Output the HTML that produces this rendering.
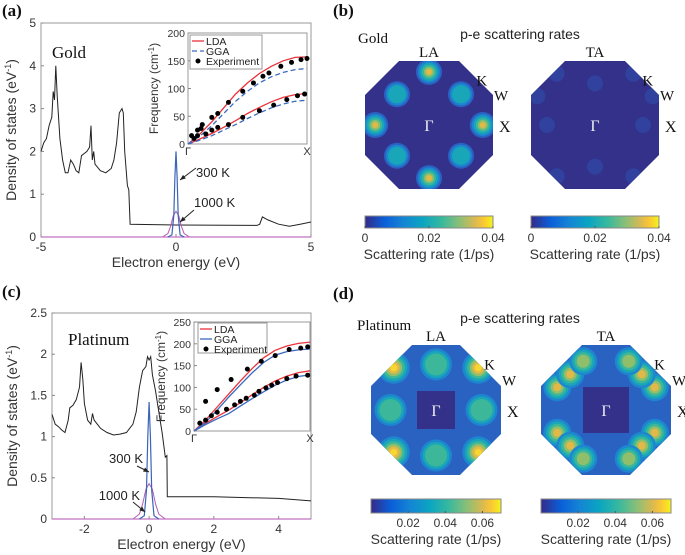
<!DOCTYPE html>
<html><head><meta charset="utf-8">
<style>
body{margin:0;background:#fff;}
svg{display:block;font-family:"Liberation Sans",sans-serif;}
.serif{font-family:"Liberation Serif",serif;}
</style></head>
<body>
<svg id="fig" width="685" height="555" viewBox="0 0 685 555" xmlns="http://www.w3.org/2000/svg">
<defs>
<linearGradient id="parula" x1="0" x2="1" y1="0" y2="0">
<stop offset="0" stop-color="#352a87"/><stop offset="0.15" stop-color="#0b5ed8"/><stop offset="0.3" stop-color="#1485d4"/>
<stop offset="0.45" stop-color="#0aa5c2"/><stop offset="0.6" stop-color="#38b99e"/><stop offset="0.75" stop-color="#92bf73"/>
<stop offset="0.86" stop-color="#dcb950"/><stop offset="0.93" stop-color="#fcc932"/><stop offset="1" stop-color="#f2f51a"/>
</linearGradient>
</defs>
<g id="root"></g>
</svg>
<script>
// ---------- DATA ----------
const goldE=[-5,-4.9,-4.8,-4.7,-4.6,-4.55,-4.5,-4.45,-4.4,-4.3,-4.2,-4.1,-4.0,-3.9,-3.8,-3.7,-3.6,-3.5,-3.4,-3.3,-3.2,-3.15,-3.1,-3.05,-3.0,-2.8,-2.6,-2.4,-2.3,-2.2,-2.1,-2.0,-1.95,-1.9,-1.8,-1.75,-1.7,0,3.0,3.1,3.2,3.4,3.8,4.2,4.6,5.0];
const goldDOS=[2.0,2.2,2.3,2.6,2.8,3.4,3.2,4.0,3.3,2.3,1.8,1.5,1.5,1.8,1.7,1.55,1.5,1.9,1.95,2.0,2.1,2.6,1.8,2.0,1.7,1.55,1.5,1.6,1.8,2.2,2.9,3.0,2.9,2.0,1.2,1.1,0.3,0.28,0.27,0.3,0.47,0.4,0.3,0.25,0.3,0.35];
const peakE300=[-0.3,-0.15,-0.08,-0.04,0,0.04,0.08,0.15,0.3];
const goldPeak300=[0,0.05,0.5,1.4,2.0,1.4,0.5,0.05,0];
const peakE1000=[-0.5,-0.3,-0.2,-0.1,0,0.1,0.2,0.3,0.5];
const goldPeak1000=[0,0.08,0.25,0.5,0.6,0.5,0.25,0.08,0];
const ptE=[-3,-2.9,-2.8,-2.7,-2.6,-2.5,-2.45,-2.35,-2.25,-2.15,-2.1,-2.05,-2.0,-1.9,-1.8,-1.75,-1.7,-1.5,-1.3,-1.1,-0.9,-0.7,-0.5,-0.4,-0.3,-0.2,-0.1,-0.05,0,0.05,0.1,0.2,0.3,0.4,0.45,0.5,0.55,0.56,2,4,5];
const ptDOS=[1.27,1.15,1.12,1.08,1.05,1.2,1.35,1.38,1.45,1.6,1.9,1.7,1.4,1.2,1.15,1.28,1.2,1.1,1.05,1.02,1.03,1.05,1.15,1.3,1.6,1.8,1.85,1.97,1.93,1.97,1.75,1.55,1.3,1.05,0.9,0.75,0.77,0.27,0.27,0.25,0.22];
const ptPeak300=[0,0.04,0.35,1.0,1.42,1.0,0.35,0.04,0];
const ptPeak1000=[0,0.06,0.18,0.36,0.43,0.36,0.18,0.06,0];
const qFrac=[0,0.1,0.2,0.3,0.4,0.5,0.6,0.7,0.8,0.9,1];
const goldLDAup=[0,18,40,65,90,110,127,140,150,156,157];
const goldGGAup=[0,14,33,55,77,95,110,121,129,134,136];
const goldLDAlo=[0,9,19,30,42,55,66,76,84,89,91];
const goldGGAlo=[0,7,15,25,35,46,56,65,72,77,79];
const goldExpQ=[0.03,0.08,0.12,0.2,0.25,0.34,0.46,0.55,0.63,0.68,0.78,0.87,0.95,1.0,0.08,0.15,0.2,0.25,0.34,0.46,0.6,0.72,0.83,0.92,0.98,0.05,0.11];
const goldExpF=[15,25,35,48,55,75,95,110,122,128,140,147,152,154,15,18,25,30,35,48,60,70,80,87,90,10,28];
const ptLDAup=[0,25,55,85,115,143,168,185,195,201,204];
const ptGGAup=[0,20,48,78,106,133,157,174,182,186,188];
const ptLDAlo=[0,18,33,48,65,83,100,115,126,134,138];
const ptGGAlo=[0,15,28,40,57,74,90,105,117,125,129];
const ptExpQ=[0.1,0.2,0.32,0.46,0.58,0.7,0.82,0.92,0.98,0.05,0.1,0.15,0.2,0.28,0.35,0.4,0.45,0.52,0.56,0.62,0.67,0.72,0.8,0.88,0.98];
const ptExpF=[68,95,118,142,160,173,187,190,193,18,25,35,43,50,60,68,75,82,91,99,105,111,120,126,128];
// heatmap blobs: dx, dy (fraction of half-width), contour level
const goldLAdx=[0,0,-0.84,0.84,-0.5,0.5,-0.5,0.5];
const goldLAdy=[-0.83,0.83,0,0,-0.48,-0.48,0.48,0.48];
const goldLAlev=[6,6,6,6,3,3,3,3];
const goldTAdx=[0,0,-0.75,0.75,-0.6,0.6,-0.6,0.6,-0.9,0.9];
const goldTAdy=[-0.65,0.65,0,0,-0.8,-0.8,0.8,0.8,-0.45,-0.45];
const goldTAlev=[1,1,1,1,1,1,1,1,1,1];
const ptLAdx=[-0.65,0.65,-0.65,0.65,0,0,-0.7,0.7];
const ptLAdy=[-0.65,-0.65,0.65,0.65,-0.7,0.7,0,0];
const ptLAlev=[7,7,7,7,4,4,4,4];
const ptTAdx=[-0.75,-0.55,-0.35,0.75,0.55,0.35,-0.75,-0.55,-0.35,0.75,0.55,0.35];
const ptTAdy=[-0.35,-0.55,-0.75,-0.35,-0.55,-0.75,0.35,0.55,0.75,0.35,0.55,0.75];
const ptTAlev=[6,6,5,6,6,5,6,6,5,6,6,5];
const goldTicks=["0","0.02","0.04"];
const ptTicks=["0.02","0.04","0.06"];

// ---------- HELPERS ----------
const NS="http://www.w3.org/2000/svg";
const root=document.getElementById('root');
function el(tag,attrs,parent,text){const e=document.createElementNS(NS,tag);for(const k in attrs)e.setAttribute(k,attrs[k]);if(text!==undefined)e.textContent=text;(parent||root).appendChild(e);return e;}
function scale(d0,d1,r0,r1){return v=>r0+(v-d0)/(d1-d0)*(r1-r0);}
function pathFrom(xs,ys,sx,sy){return xs.map((x,i)=>(i?'L':'M')+sx(x).toFixed(1)+','+sy(ys[i]).toFixed(1)).join(' ');}

function dosPanel(o){
  const g=el('g',{});
  
  
  const sx=scale(o.xd[0],o.xd[1],o.x0,o.x1), sy=scale(o.yd[0],o.yd[1],o.y1,o.y0);
  el('rect',{x:o.x0,y:o.y0,width:o.x1-o.x0,height:o.y1-o.y0,fill:'none',stroke:'#999','stroke-width':1},g);
  o.xt.forEach(t=>{const x=sx(t);el('line',{x1:x,x2:x,y1:o.y1,y2:o.y1-3,stroke:'#888'},g);
    const tl=el('text',{x:x,y:o.y1+14,'font-size':12,'text-anchor':'middle',fill:'#333'},g,String(t));
    });
  o.yt.forEach(t=>{const y=sy(t);el('line',{x1:o.x0,x2:o.x0+3,y1:y,y2:y,stroke:'#888'},g);
    const tl=el('text',{x:o.x0-5,y:y+4,'font-size':12,'text-anchor':'end',fill:'#333'},g,String(t));
    });
  const xl=el('text',{x:(o.x0+o.x1)/2,y:o.y1+30,'font-size':14,'text-anchor':'middle',fill:'#333'},g,'Electron energy (eV)');
  
  const cy=(o.y0+o.y1)/2;
  const yl=el('text',{x:o.ylx,y:cy,'font-size':14,'text-anchor':'middle',fill:'#333',transform:`rotate(-90 ${o.ylx} ${cy})`},g);
  yl.innerHTML='Density of states (eV<tspan dy="-5" font-size="9">-1</tspan><tspan dy="5">)</tspan>';
  
  const p1=el('path',{d:pathFrom(o.e,o.dos,sx,sy),fill:'none',stroke:'#222','stroke-width':1},g);
  
  const p2=el('path',{d:pathFrom(peakE1000,o.p1000,sx,sy),fill:'none',stroke:'#b45ab4','stroke-width':1},g);
  
  el('line',{x1:o.x0,x2:o.x1,y1:sy(0),y2:sy(0),stroke:'#c070c0','stroke-width':1.2},g);
  const p3=el('path',{d:pathFrom(peakE300,o.p300,sx,sy),fill:'none',stroke:'#3a64b8','stroke-width':1.2},g);
  
  const nm=el('text',{x:o.nameX,y:o.nameY,'font-size':17,fill:'#111','class':'serif'},g,o.label);
  
  o.ann.forEach(a=>{
    const t=el('text',{x:a.tx,y:a.ty,'font-size':13,fill:'#222','text-anchor':a.anchor},g,a.text);
    
    el('line',{x1:a.ax,y1:a.ay,x2:a.bx,y2:a.by,stroke:'#222','stroke-width':1},g);
    const ang=Math.atan2(a.by-a.ay,a.bx-a.ax);
    el('path',{d:`M${a.bx},${a.by} L${a.bx-6*Math.cos(ang-0.4)},${a.by-6*Math.sin(ang-0.4)} L${a.bx-6*Math.cos(ang+0.4)},${a.by-6*Math.sin(ang+0.4)}Z`,fill:'#222'},g);
  });
  // inset
  const I=o.inset;
  const ig=el('g',{},g);
  
  el('rect',{x:I.x0,y:I.y0,width:I.x1-I.x0,height:I.y1-I.y0,fill:'#fff',stroke:'#999'},ig);
  const ix=scale(0,1,I.x0,I.x1), iy=scale(0,I.ymax,I.y1,I.y0);
  I.yt.forEach(t=>{const y=iy(t);el('line',{x1:I.x0,x2:I.x0+3,y1:y,y2:y,stroke:'#888'},ig);
    el('text',{x:I.x0-3,y:y+4,'font-size':10.5,'text-anchor':'end',fill:'#333'},ig,String(t));});
  el('text',{x:I.x0,y:I.y1+11,'font-size':11,'text-anchor':'middle',fill:'#333'},ig,'Γ');
  el('text',{x:I.x1,y:I.y1+11,'font-size':11,'text-anchor':'middle',fill:'#333'},ig,'X');
  const icy=(I.y0+I.y1)/2;
  const iyl=el('text',{x:I.ylx,y:icy,'font-size':12,'text-anchor':'middle',fill:'#333',transform:`rotate(-90 ${I.ylx} ${icy})`},ig);
  iyl.innerHTML='Frequency (cm<tspan dy="-4" font-size="8">-1</tspan><tspan dy="4">)</tspan>';
  const dash=I.dash?'5,3':'none';
  [I.ldaU,I.ldaL].forEach(arr=>{const p=el('path',{d:pathFrom(qFrac,arr,ix,iy),fill:'none',stroke:'#e8333b','stroke-width':1.3},ig);
    });
  [I.ggaU,I.ggaL].forEach(arr=>{const p=el('path',{d:pathFrom(qFrac,arr,ix,iy),fill:'none',stroke:'#3a6ac0','stroke-width':1.3,'stroke-dasharray':dash},ig);
    });
  I.eq.forEach((q,i)=>{const c=el('circle',{cx:ix(q),cy:iy(I.ef[i]),r:2.5,fill:'#000'},ig);
    });
  const L=I.leg;
  const lg=el('g',{},ig);
  el('rect',{x:L.x,y:L.y,width:L.w,height:L.h,fill:'#fff',stroke:'#999'},lg);
  el('line',{x1:L.x+2,x2:L.x+14,y1:L.y+6,y2:L.y+6,stroke:'#e8333b','stroke-width':1.3},lg);
  el('text',{x:L.x+16,y:L.y+10,'font-size':10.5,fill:'#222'},lg,'LDA');
  el('line',{x1:L.x+2,x2:L.x+14,y1:L.y+16,y2:L.y+16,stroke:'#3a6ac0','stroke-width':1.3,'stroke-dasharray':dash},lg);
  el('text',{x:L.x+16,y:L.y+20,'font-size':10.5,fill:'#222'},lg,'GGA');
  el('circle',{cx:L.x+8,cy:L.y+26,r:2.5,fill:'#000'},lg);
  el('text',{x:L.x+16,y:L.y+30,'font-size':10.5,fill:'#222'},lg,'Experiment');
}

dosPanel({name:'gold-dos-panel',x0:41,x1:311,y0:23,y1:237,xd:[-5,5],yd:[0,5],xt:[-5,0,5],yt:[0,1,2,3,4,5],ylx:16,
  e:goldE,dos:goldDOS,p300:goldPeak300,p1000:goldPeak1000,label:'Gold',nameX:52,nameY:58,
  ann:[{text:'300 K',tx:196,ty:177,anchor:'start',ax:196,ay:168,bx:180,by:180},
       {text:'1000 K',tx:194,ty:207,anchor:'start',ax:194,ay:210,bx:180,by:222}],
  inset:{x0:188,x1:307,y0:33,y1:144,ymax:200,yt:[0,50,100,150,200],ylx:158,dash:true,
    ldaU:goldLDAup,ldaL:goldLDAlo,ggaU:goldGGAup,ggaL:goldGGAlo,eq:goldExpQ,ef:goldExpF,leg:{x:190,y:35,w:72,h:34}}});
dosPanel({name:'platinum-dos-panel',x0:52,x1:311,y0:313,y1:519,xd:[-3,5],yd:[0,2.5],xt:[-2,0,2,4],yt:[0,0.5,1,1.5,2,2.5],ylx:17,
  e:ptE,dos:ptDOS,p300:ptPeak300,p1000:ptPeak1000,label:'Platinum',nameX:68,nameY:345,
  ann:[{text:'300 K',tx:143,ty:463,anchor:'end',ax:137,ay:466,bx:149,by:472},
       {text:'1000 K',tx:140,ty:500,anchor:'end',ax:133,ay:502,bx:145,by:512}],
  inset:{x0:194,x1:310,y0:322,y1:431,ymax:250,yt:[0,50,100,150,200,250],ylx:165,dash:false,
    ldaU:ptLDAup,ldaL:ptLDAlo,ggaU:ptGGAup,ggaL:ptGGAlo,eq:ptExpQ,ef:ptExpF,leg:{x:198,y:323,w:69,h:30}}});

// ---------- HEATMAPS ----------
const pal=['#33318a','#2a62c2','#1d86cf','#19a6b8','#3db79a','#8fbf6a','#e2b848','#f7d630'];
let clipN=0;
function octagon(cx,cy,h,c){return [[cx-c,cy-h],[cx+c,cy-h],[cx+h,cy-c],[cx+h,cy+c],[cx+c,cy+h],[cx-c,cy+h],[cx-h,cy+c],[cx-h,cy-c]].map(p=>p.join(',')).join(' ');}
function heat(o){
  const g=el('g',{});
  
  
  const id='clip'+(clipN++);
  const cp=el('clipPath',{id:id},g);
  el('polygon',{points:octagon(o.cx,o.cy,o.h,o.c)},cp);
  const inner=el('g',{'clip-path':`url(#${id})`},g);
  el('rect',{x:o.cx-o.h,y:o.cy-o.h,width:2*o.h,height:2*o.h,fill:pal[o.base]},inner);
  if(o.sq){el('rect',{x:o.cx-o.sq,y:o.cy-o.sq,width:2*o.sq,height:2*o.sq,fill:pal[0]},inner);}
  o.dx.forEach((dx,i)=>{
    for(let l=o.base+1;l<=o.lev[i];l++){
      const r=o.r0-(l-o.base-1)*o.rs;
      const c=el('circle',{cx:o.cx+dx*o.h,cy:o.cy+o.dy[i]*o.h,r:Math.max(r,2),fill:pal[l],'fill-opacity':o.op||1},inner);
      
    }
  });
  el('text',{x:o.cx,y:o.cy+6,'font-size':16,'text-anchor':'middle',fill:'#eee','class':'serif'},g,'Γ');
  el('text',{x:o.cx,y:o.cy-o.h-4,'font-size':15,'text-anchor':'middle',fill:'#111','class':'serif'},g,o.mode);
  el('text',{x:o.cx+o.h*0.74,y:o.cy-o.h*0.62,'font-size':15,fill:'#111','class':'serif'},g,'K');
  el('text',{x:o.cx+o.h+1,y:o.cy-o.h*0.38,'font-size':15,fill:'#111','class':'serif'},g,'W');
  el('text',{x:o.cx+o.h+6,y:o.cy+7,'font-size':16,fill:'#111','class':'serif'},g,'X');
  const cb=el('rect',{x:o.cx-o.h,y:o.cby,width:2*o.h,height:o.cbh,fill:'url(#parula)',stroke:'#888'},g);
  
  const cs=scale(0,o.cbmax,o.cx-o.h,o.cx+o.h);
  o.ticks.forEach(t=>{const x=cs(parseFloat(t));
    el('line',{x1:x,x2:x,y1:o.cby+o.cbh,y2:o.cby+o.cbh-2,stroke:'#555'},g);
    el('text',{x:x,y:o.cby+o.cbh+14,'font-size':12,'text-anchor':'middle',fill:'#333'},g,t);});
  const ct=el('text',{x:o.cx,y:o.cby+o.cbh+31,'font-size':14,'text-anchor':'middle',fill:'#333'},g,'Scattering rate (1/ps)');
  
}
heat({name:'gold-la-map',mode:'LA',cx:429,cy:125,h:64,c:30,base:0,dx:goldLAdx,dy:goldLAdy,lev:goldLAlev,r0:13,rs:2,cby:216,cbh:12,cbmax:0.04,ticks:goldTicks});
heat({name:'gold-ta-map',mode:'TA',cx:595,cy:125,h:64,c:30,base:0,dx:goldTAdx,dy:goldTAdy,lev:goldTAlev,r0:8,rs:3,op:0.35,cby:216,cbh:12,cbmax:0.04,ticks:goldTicks});
heat({name:'platinum-la-map',mode:'LA',cx:436,cy:410,h:65,c:24,base:1,sq:19,dx:ptLAdx,dy:ptLAdy,lev:ptLAlev,r0:16,rs:2.5,cby:499,cbh:14,cbmax:0.07,ticks:ptTicks});
heat({name:'platinum-ta-map',mode:'TA',cx:606,cy:410,h:65,c:24,base:1,sq:23,dx:ptTAdx,dy:ptTAdy,lev:ptTAlev,r0:14,rs:2.5,cby:499,cbh:14,cbmax:0.07,ticks:ptTicks});

const labels=[['(a)',2,16],['(b)',333,16],['(c)',2,297],['(d)',333,299]];
labels.forEach(l=>{const t=el('text',{x:l[1],y:l[2],'font-size':17,'font-weight':'bold',fill:'#111','class':'serif'},root,l[0]);
  });
const t1=el('text',{x:520,y:39,'font-size':14,'text-anchor':'middle',fill:'#222'},root,'p-e scattering rates');

const t2=el('text',{x:520,y:323,'font-size':14,'text-anchor':'middle',fill:'#222'},root,'p-e scattering rates');

const g1=el('text',{x:358,y:43,'font-size':15,fill:'#111','class':'serif'},root,'Gold');

const g2=el('text',{x:357,y:330,'font-size':15,fill:'#111','class':'serif'},root,'Platinum');

</script>
</body></html>
